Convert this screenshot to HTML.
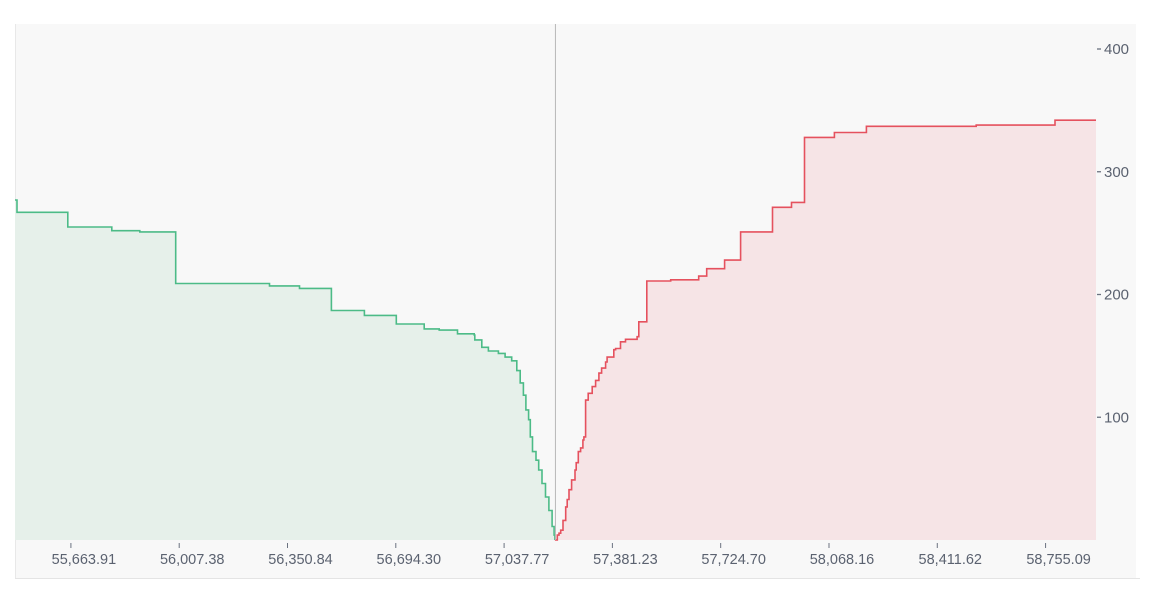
<!DOCTYPE html>
<html><head><meta charset="utf-8">
<style>
html,body{margin:0;padding:0;background:#fff;width:1163px;height:592px;overflow:hidden}
svg{display:block;font-family:"Liberation Sans",sans-serif}
</style></head>
<body>
<svg id="chart" width="1163" height="592" viewBox="0 0 1163 592" xmlns="http://www.w3.org/2000/svg">
<rect x="15" y="24" width="1121" height="554" fill="#f8f8f8"/>
<line x1="15.5" y1="24" x2="15.5" y2="578" stroke="#e8e8e8"/>
<line x1="15" y1="578.5" x2="1140" y2="578.5" stroke="#e4e4e4"/>
<g id="plot"></g>
</svg>
<script>
const bidPrices=[55486.6,55493,55654,55793.7,55882.3,55996.3,56293.8,56388.8,56490.1,56594.6,56695.9,56784.5,56832,56890,56942.8,56945,56967,56988,57019.6,57041,57062,57078,57089,57099,57107,57115.5,57121,57128,57139,57147.5,57158,57169,57180,57190,57196.5,57199];
const bidVolumes=[277,267,255,252,251,209,207,205,187,183,176,172,171,168,167,163,157,154,152,149,146,138,128,118,106,98,84,72,65,57,46,35,24,11,4,0];
const askPrices=[57199,57206.5,57211.9,57217.2,57224.5,57233,57238,57243.5,57252,57262.5,57266.6,57273,57280.5,57287.8,57291,57296.3,57304.6,57317.3,57328,57338.4,57346.9,57359.6,57364.6,57385.8,57391.3,57407.1,57422.9,57459.6,57465,57490.3,57566.2,57654.9,57680.2,57737.2,57787.8,57889.1,57949.3,57990.4,58085.4,58186.7,58534.9,58785,58915];
const askVolumes=[0,4,5.5,8,16,27,33,41,49,57,63,72,75,81.5,84,114,119.5,125,130,136,140,145,149,155,156,161.5,163.5,165.6,177.8,211,212,215,221,228,251,271,275,328,332,337,338,342,342];
const midPrice=57199;
const xTicks=[55663.91,56007.38,56350.84,56694.30,57037.77,57381.23,57724.70,58068.16,58411.62,58755.09];
const yTicks=[100,200,300,400];

const X0=15,X1=1096,Y0=540;
const pMin=55486.6,pMax=58915;
const xs=p=>X0+(p-pMin)/(pMax-pMin)*(X1-X0);
const ys=v=>Y0-v*1.2275;
const NS="http://www.w3.org/2000/svg";
const g=document.getElementById('plot');
function mk(tag,attrs){const e=document.createElementNS(NS,tag);for(const k in attrs)e.setAttribute(k,attrs[k]);g.appendChild(e);return e;}
function stepPath(P,V){let d='M'+xs(P[0]).toFixed(1)+','+ys(V[0]).toFixed(1);
 for(let i=1;i<P.length;i++){d+=' H'+xs(P[i]).toFixed(1)+' V'+ys(V[i]).toFixed(1);}return d;}
function fillPath(P,V){return stepPath(P,V)+' V'+Y0+' H'+xs(P[0]).toFixed(1)+' Z';}

const bf=mk('path',{d:fillPath(bidPrices,bidVolumes),fill:'#e6f0ea'});


const af=mk('path',{d:fillPath(askPrices,askVolumes),fill:'#f6e4e6'});


const bl=mk('path',{d:stepPath(bidPrices,bidVolumes),fill:'none',stroke:'#4cbb87','stroke-width':1.6});


const al=mk('path',{d:stepPath(askPrices,askVolumes),fill:'none',stroke:'#e5515e','stroke-width':1.6});


const ml=mk('line',{x1:xs(midPrice)+0.5,x2:xs(midPrice)+0.5,y1:24,y2:Y0,stroke:'#b8b8b8','stroke-width':1});



xTicks.forEach(t=>{
 const x=xs(t);
 const tk=mk('line',{x1:x,x2:x,y1:543,y2:548,stroke:'#6b7280','stroke-width':1});
 
 
 const tx=mk('text',{x:x+13,y:564,'text-anchor':'middle','font-size':'14.5',fill:'#5b6270'});
 tx.textContent=t.toLocaleString('en-US',{minimumFractionDigits:2,maximumFractionDigits:2});
 
 
});
yTicks.forEach(v=>{
 const y=ys(v);
 const tk=mk('line',{x1:1097,x2:1101,y1:y,y2:y,stroke:'#6b7280','stroke-width':1.3});
 
 
 const tx=mk('text',{x:1104,y:y+5,'font-size':'15',fill:'#5b6270'});
 tx.textContent=String(v);
 
 
});
</script>
</body></html>
